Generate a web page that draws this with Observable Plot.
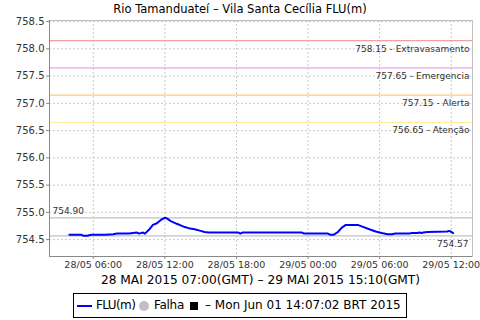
<!DOCTYPE html>
<html><head><meta charset="utf-8">
<script src="https://cdn.jsdelivr.net/npm/d3@7"></script>
<script src="https://cdn.jsdelivr.net/npm/@observablehq/plot@0.6"></script>
<style>
body{margin:0;background:#fff;font-family:"DejaVu Sans",sans-serif;}
#wrap{position:relative;width:480px;height:320px;overflow:hidden;}
#title{position:absolute;left:0;top:0;width:480px;text-align:center;font-size:11.5px;line-height:18px;color:#000;}
#chart{position:absolute;left:0;top:0;}
#xlabel{position:absolute;left:49px;width:423px;top:272px;text-align:center;font-size:12.2px;line-height:16px;color:#000;}
#legend{position:absolute;left:73px;top:293px;width:332px;height:23px;border:1px solid #000;font-size:12px;line-height:23px;white-space:nowrap;}
#legend span{position:absolute;top:0;}
</style></head>
<body><div id="wrap">
<div id="title">Rio Tamanduateí – Vila Santa Cecília FLU(m)</div>
<div id="chart"></div>
<div id="xlabel">28 MAI 2015 07:00(GMT) – 29 MAI 2015 15:10(GMT)</div>
<div id="legend">
  <span style="left:3px;top:11px;width:15px;height:2px;background:#0000ff;"></span>
  <span style="left:22px;letter-spacing:-0.6px;">FLU(m)</span>
  <span style="left:65px;top:7px;width:10px;height:10px;border-radius:50%;background:#c0c0c0;"></span>
  <span style="left:80px;letter-spacing:-0.3px;">Falha</span>
  <span style="left:116px;top:8px;width:8px;height:8px;background:#000;"></span>
  <span style="left:131px;">– Mon Jun 01 14:07:02 BRT 2015</span>
</div>
</div>
<script>
// Readings (local time, BRT) and levels in metres
const times = [
 "2015-05-28T04:00","2015-05-28T04:30","2015-05-28T05:00","2015-05-28T05:10","2015-05-28T05:30",
 "2015-05-28T05:40","2015-05-28T05:50","2015-05-28T06:30","2015-05-28T07:00","2015-05-28T07:40",
 "2015-05-28T08:00","2015-05-28T09:00","2015-05-28T09:40","2015-05-28T09:50","2015-05-28T10:10",
 "2015-05-28T10:20","2015-05-28T10:40","2015-05-28T11:00","2015-05-28T11:20","2015-05-28T11:40",
 "2015-05-28T12:00","2015-05-28T12:10","2015-05-28T12:30","2015-05-28T13:00","2015-05-28T13:20",
 "2015-05-28T13:40","2015-05-28T14:00","2015-05-28T14:30","2015-05-28T15:00","2015-05-28T15:20",
 "2015-05-28T15:40","2015-05-28T18:10","2015-05-28T18:20","2015-05-28T18:30","2015-05-28T23:30",
 "2015-05-28T23:40","2015-05-29T01:40","2015-05-29T01:50","2015-05-29T02:10","2015-05-29T02:30",
 "2015-05-29T02:50","2015-05-29T03:10","2015-05-29T04:10","2015-05-29T04:40","2015-05-29T05:15",
 "2015-05-29T05:40","2015-05-29T06:10","2015-05-29T06:40","2015-05-29T07:00","2015-05-29T07:20",
 "2015-05-29T08:30","2015-05-29T08:40","2015-05-29T09:10","2015-05-29T09:20","2015-05-29T09:30",
 "2015-05-29T09:40","2015-05-29T10:00","2015-05-29T11:40","2015-05-29T11:50","2015-05-29T12:00",
 "2015-05-29T12:10"
];
const levels = [
 754.59,754.59,754.59,754.57,754.57,
 754.58,754.59,754.59,754.59,754.60,
 754.61,754.61,754.63,754.61,754.63,
 754.61,754.68,754.77,754.80,754.86,
 754.90,754.89,754.84,754.79,754.76,
 754.73,754.71,754.69,754.66,754.64,
 754.63,754.63,754.61,754.63,754.63,
 754.61,754.61,754.59,754.59,754.64,
 754.72,754.77,754.77,754.73,754.68,
 754.65,754.62,754.60,754.60,754.61,
 754.61,754.62,754.62,754.63,754.62,
 754.63,754.64,754.65,754.66,754.64,
 754.62
];
const thresholdValues = [758.15, 757.65, 757.15, 756.65];
const thresholdNames = ["Extravasamento", "Emergencia", "Alerta", "Atenção"];
const thresholdColors = ["#f0a0a0", "#f0a0f0", "#ffc880", "#fff0a0"];
const maxValue = 754.90;
const minValue = 754.57;
const yTicks = [754.5, 755.0, 755.5, 756.0, 756.5, 757.0, 757.5, 758.0, 758.5];
const xTickLabels = ["28/05 06:00","28/05 12:00","28/05 18:00","29/05 00:00","29/05 06:00","29/05 12:00"];
const xDomain = ["2015-05-28T02:20", "2015-05-29T13:47"];
const yDomain = [754.19, 758.52];

const parse = s => new Date(s + ":00Z");
const data = times.map((t, i) => ({t: parse(t), v: levels[i]}));
const thresholds = thresholdValues.map((v, i) => ({v, name: thresholdNames[i], color: thresholdColors[i],
  label: v.toFixed(2) + " - " + thresholdNames[i]}));
const parseTick = s => { const [dm, hm] = s.split(" "); const [d, m] = dm.split("/"); return parse(`2015-${m}-${d}T${hm}`); };
const xTicks = xTickLabels.map(parseTick);
const xEnd = parse(xDomain[1]);
const xStart = parse(xDomain[0]);

const chart = Plot.plot({
  width: 480, height: 272,
  marginLeft: 49, marginRight: 8, marginTop: 20, marginBottom: 16,
  style: {fontFamily: "DejaVu Sans, sans-serif", background: "transparent"},
  x: {type: "utc", domain: [xStart, xEnd]},
  y: {domain: yDomain},
  marks: [
    Plot.ruleX(xTicks, {stroke: "#c8c8c8", strokeDasharray: "2,2", strokeWidth: 1}),
    Plot.ruleY(yTicks, {stroke: "#c8c8c8", strokeDasharray: "2,2", strokeWidth: 1}),
    Plot.frame({stroke: "#c0c0c0"}),
    Plot.ruleY(thresholds, {y: "v", stroke: "color", strokeWidth: 1.3}),
    Plot.text(thresholds, {y: "v", x: () => xEnd, text: "label", textAnchor: "end", dx: -3, dy: 8, fontSize: 9, fill: "#333", letterSpacing: 0.2}),
    Plot.ruleY([maxValue, minValue], {stroke: "#c0c0c0", strokeWidth: 1.2}),
    Plot.text([maxValue], {y: d => d, x: () => xStart, text: d => d.toFixed(2), textAnchor: "start", dx: 3, dy: -7, fontSize: 9, fill: "#333"}),
    Plot.text([minValue], {y: d => d, x: () => xEnd, text: d => d.toFixed(2), textAnchor: "end", dx: -4, dy: 8, fontSize: 9, fill: "#333"}),
    Plot.line(data, {x: "t", y: "v", stroke: "#0000ff", strokeWidth: 2}),
    Plot.axisY({ticks: yTicks, tickFormat: d3.format(".1f"), tickSize: 3, tickPadding: 2, fontSize: 10, stroke: "#888", fill: "#333", label: null}),
    Plot.axisX({ticks: xTicks, tickFormat: d3.utcFormat("%d/%m %H:%M"), tickSize: 3, tickPadding: 2, fontSize: 9.5, stroke: "#888", fill: "#333", label: null}),
    Plot.ruleX([xStart], {stroke: "#888"}),
    Plot.ruleY([yDomain[0]], {stroke: "#888"})
  ]
});
document.getElementById("chart").appendChild(chart);
</script>
</body></html>
